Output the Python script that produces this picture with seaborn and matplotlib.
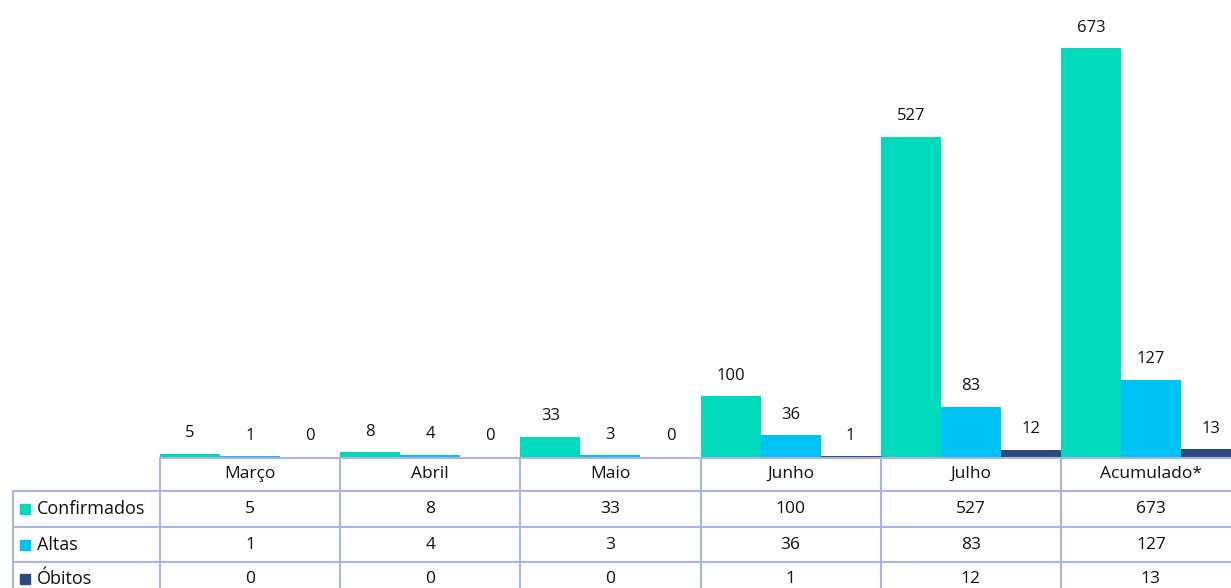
import matplotlib
matplotlib.use("Agg")
import matplotlib.pyplot as plt
import matplotlib.transforms as mtransforms
from matplotlib.patches import Rectangle
import seaborn as sns
import pandas as pd

categories = ["Março", "Abril", "Maio", "Junho", "Julho", "Acumulado*"]
series_names = ["Confirmados", "Altas", "Óbitos"]
confirmados = [5, 8, 33, 100, 527, 673]
altas = [1, 4, 3, 36, 83, 127]
obitos = [0, 0, 0, 1, 12, 13]
colors = ["#00d9bc", "#00c3f5", "#2d4a7c"]

sns.set_theme(style="white")
plt.rcParams["font.family"] = ["Open Sans", "DejaVu Sans"]

W, H = 1231, 588
fig = plt.figure(figsize=(W / 100, H / 100), dpi=100)

def fx(px):
    return px / W

def fy(py):
    return 1 - py / H

# main axes: x from 160 px to 1241 px (last column clipped by figure edge)
left_px, right_px, base_px = 160, 1241, 457
ax = fig.add_axes([fx(left_px), fy(base_px), (right_px - left_px) / W, base_px / H])

rows = []
for name, vals in zip(series_names, [confirmados, altas, obitos]):
    for c, v in zip(categories, vals):
        rows.append({"cat": c, "serie": name, "val": v})
df = pd.DataFrame(rows)

sns.barplot(data=df, x="cat", y="val", hue="serie", order=categories,
            hue_order=series_names, palette=colors, width=1.0, gap=0,
            linewidth=0, saturation=1, legend=False, ax=ax, errorbar=None)

for cont in ax.containers:
    ax.bar_label(cont, padding=9, fontsize=12, color="#111111")

ax.set_xlim(-0.5, 5.5)
ax.set_ylim(0, 752)
ax.set_xlabel("")
ax.set_ylabel("")
ax.set_xticks([])
ax.set_yticks([])
for s in ax.spines.values():
    s.set_visible(False)

# ---- data table below ----
line_c = "#a9b6e3"
trans = mtransforms.blended_transform_factory(ax.transData, fig.transFigure)
row_lines = [458, 491, 527, 562]
bottom_px = 600
ax.plot([-0.5, 5.5], [fy(458), fy(458)], transform=trans, color=line_c, lw=1.5, clip_on=False)
for py in row_lines[1:]:
    fig.add_artist(plt.Line2D([fx(13), 1.0], [fy(py), fy(py)], color=line_c, lw=1.5))
for i in range(len(categories) + 1):
    xb = i - 0.5
    ax.plot([xb, xb], [fy(458), fy(bottom_px)], transform=trans, color=line_c, lw=1.5, clip_on=False)
fig.add_artist(plt.Line2D([fx(13), fx(13)], [fy(491), fy(bottom_px)], color=line_c, lw=1.5))

txt_c = "#111111"
fs = 12.5
for i, c in enumerate(categories):
    ax.text(i, fy(474), c, transform=trans, ha="center", va="center", fontsize=fs,
            color=txt_c, clip_on=False)
row_centers = [509, 545, 579]
for r, vals in enumerate([confirmados, altas, obitos]):
    for i, v in enumerate(vals):
        ax.text(i, fy(row_centers[r]), str(v), transform=trans, ha="center", va="center",
                fontsize=fs, color=txt_c, clip_on=False)
    fig.add_artist(Rectangle((fx(20), fy(row_centers[r] + 5)), 10 / W, 10 / H,
                             transform=fig.transFigure, color=colors[r]))
    fig.text(fx(37), fy(row_centers[r]), series_names[r], ha="left", va="center",
             fontsize=13, color=txt_c)

fig.savefig("out.png", dpi=100)
